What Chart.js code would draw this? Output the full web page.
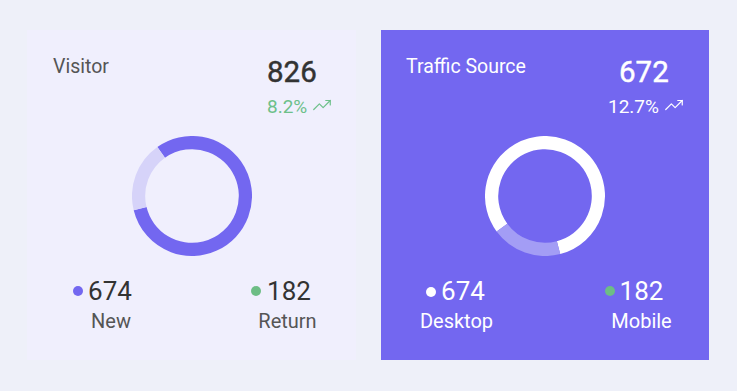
<!DOCTYPE html>
<html>
<head>
<meta charset="utf-8">
<script src="https://cdn.jsdelivr.net/npm/chart.js@4.4.1/dist/chart.umd.min.js"></script>
<style>
  html, body { margin: 0; padding: 0; }
  body { width: 737px; height: 391px; background: #eef0f9; position: relative; overflow: hidden; font-family: Roboto, "Noto Sans", sans-serif; }
  .panel { position: absolute; top: 30px; height: 330px; }
  #p0 { left: 27px; width: 329px; background: #f0effd; }
  #p1 { left: 381px; width: 328px; background: #7367f0; }
  .abs { position: absolute; white-space: nowrap; line-height: 1; }
  .ring { position: absolute; width: 120px; height: 120px; }
  .dot { position: absolute; width: 10px; height: 10px; border-radius: 50%; }
  svg.trend { position: absolute; }
</style>
</head>
<body>
<div class="panel" id="p0"></div>
<div class="panel" id="p1"></div>
<div class="ring" style="left:132px; top:135.5px;"><canvas id="c0" width="120" height="120"></canvas></div>
<div class="ring" style="left:485px; top:135.5px;"><canvas id="c1" width="120" height="120"></canvas></div>
<div id="texts"></div>
<script>
// ---- data ----
const panelTitles = ['Visitor', 'Traffic Source'];
const totals = [826, 672];
const changes = ['8.2%', '12.7%'];
const visitorLabels = ['New', 'Return'];
const visitorCounts = [674, 182];
const trafficLabels = ['Desktop', 'Mobile'];
const trafficCounts = [674, 182];
// ring shares as drawn (percent of circle)
const visitorRing = [81, 19];
const trafficRing = [81, 19];

// ---- text ----
const T = document.getElementById('texts');
function add(html, style) {
  const d = document.createElement('div');
  d.className = 'abs';
  d.innerHTML = html;
  d.setAttribute('style', style);
  T.appendChild(d);
  return d;
}
function centered(text, cx, top, style) {
  return add(text, `left:${cx - 100}px; width:200px; text-align:center; top:${top}px; ${style}`);
}
function trend(x, y, color) {
  const s = document.createElementNS('http://www.w3.org/2000/svg', 'svg');
  s.setAttribute('class', 'trend');
  s.setAttribute('width', '18'); s.setAttribute('height', '18');
  s.setAttribute('viewBox', '0 0 24 24');
  s.style.left = x + 'px'; s.style.top = y + 'px';
  s.innerHTML = `<polyline points="1 18 8.5 10.5 13.5 15.5 23 6" fill="none" stroke="${color}" stroke-width="1.6" stroke-linecap="round" stroke-linejoin="round"/><polyline points="17 6 23 6 23 12" fill="none" stroke="${color}" stroke-width="1.6" stroke-linecap="round" stroke-linejoin="round"/>`;
  T.appendChild(s);
}
function dot(cx, cy, color) {
  const d = document.createElement('div');
  d.className = 'dot';
  d.style.left = (cx - 5) + 'px'; d.style.top = (cy - 5) + 'px';
  d.style.background = color;
  T.appendChild(d);
}

const bigStyle = 'font-size:29.5px; font-weight:400; -webkit-text-stroke:0.45px ';

// left panel
add(panelTitles[0], 'left:53px; top:56.5px; font-size:19.5px; color:#555;');
add(String(totals[0]), `left:267px; top:58.2px; ${bigStyle}#333; color:#333;`);
add(changes[0], 'left:267px; top:96.5px; font-size:19px; color:#6dc08a;');
trend(313, 96, '#6dc08a');
dot(77.5, 291, '#7367f0');
centered(String(visitorCounts[0]), 110, 278, 'font-size:26px; color:#333;');
centered(visitorLabels[0], 111, 311, 'font-size:20px; color:#555;');
dot(256, 291, '#6dbd85');
centered(String(visitorCounts[1]), 289, 278, 'font-size:26px; color:#333;');
centered(visitorLabels[1], 287.5, 311, 'font-size:20px; color:#555;');

// right panel
add(panelTitles[1], 'left:406px; top:56.5px; font-size:19.5px; color:#fff;');
add(String(totals[1]), `left:619px; top:58.2px; ${bigStyle}#fff; color:#fff;`);
add(changes[1], 'left:608px; top:96.5px; font-size:19px; color:#fff;');
trend(665, 96, '#ffffff');
dot(431, 291.5, '#ffffff');
centered(String(trafficCounts[0]), 463, 278, 'font-size:26px; color:#fff;');
centered(trafficLabels[0], 456.5, 311, 'font-size:20px; color:#fff;');
dot(609.5, 291, '#6dbd85');
centered(String(trafficCounts[1]), 641.5, 278, 'font-size:26px; color:#fff;');
centered(trafficLabels[1], 641.5, 311, 'font-size:20px; color:#fff;');

// ---- donuts ----
function ring(id, labels, values, colors, rotation) {
  new Chart(document.getElementById(id), {
    type: 'doughnut',
    data: { labels: labels, datasets: [{ data: values, backgroundColor: colors, borderWidth: 0, hoverOffset: 0 }] },
    options: {
      responsive: false,
      animation: false,
      cutout: '78%',
      rotation: rotation,
      layout: { padding: 0 },
      plugins: { legend: { display: false }, tooltip: { enabled: false } },
      events: []
    }
  });
}
ring('c0', visitorLabels, visitorRing, ['#7367f0', '#d6d3f9'], -35.3);
ring('c1', trafficLabels, trafficRing, ['#ffffff', '#a39df5'], -126.3);
</script>
</body>
</html>
